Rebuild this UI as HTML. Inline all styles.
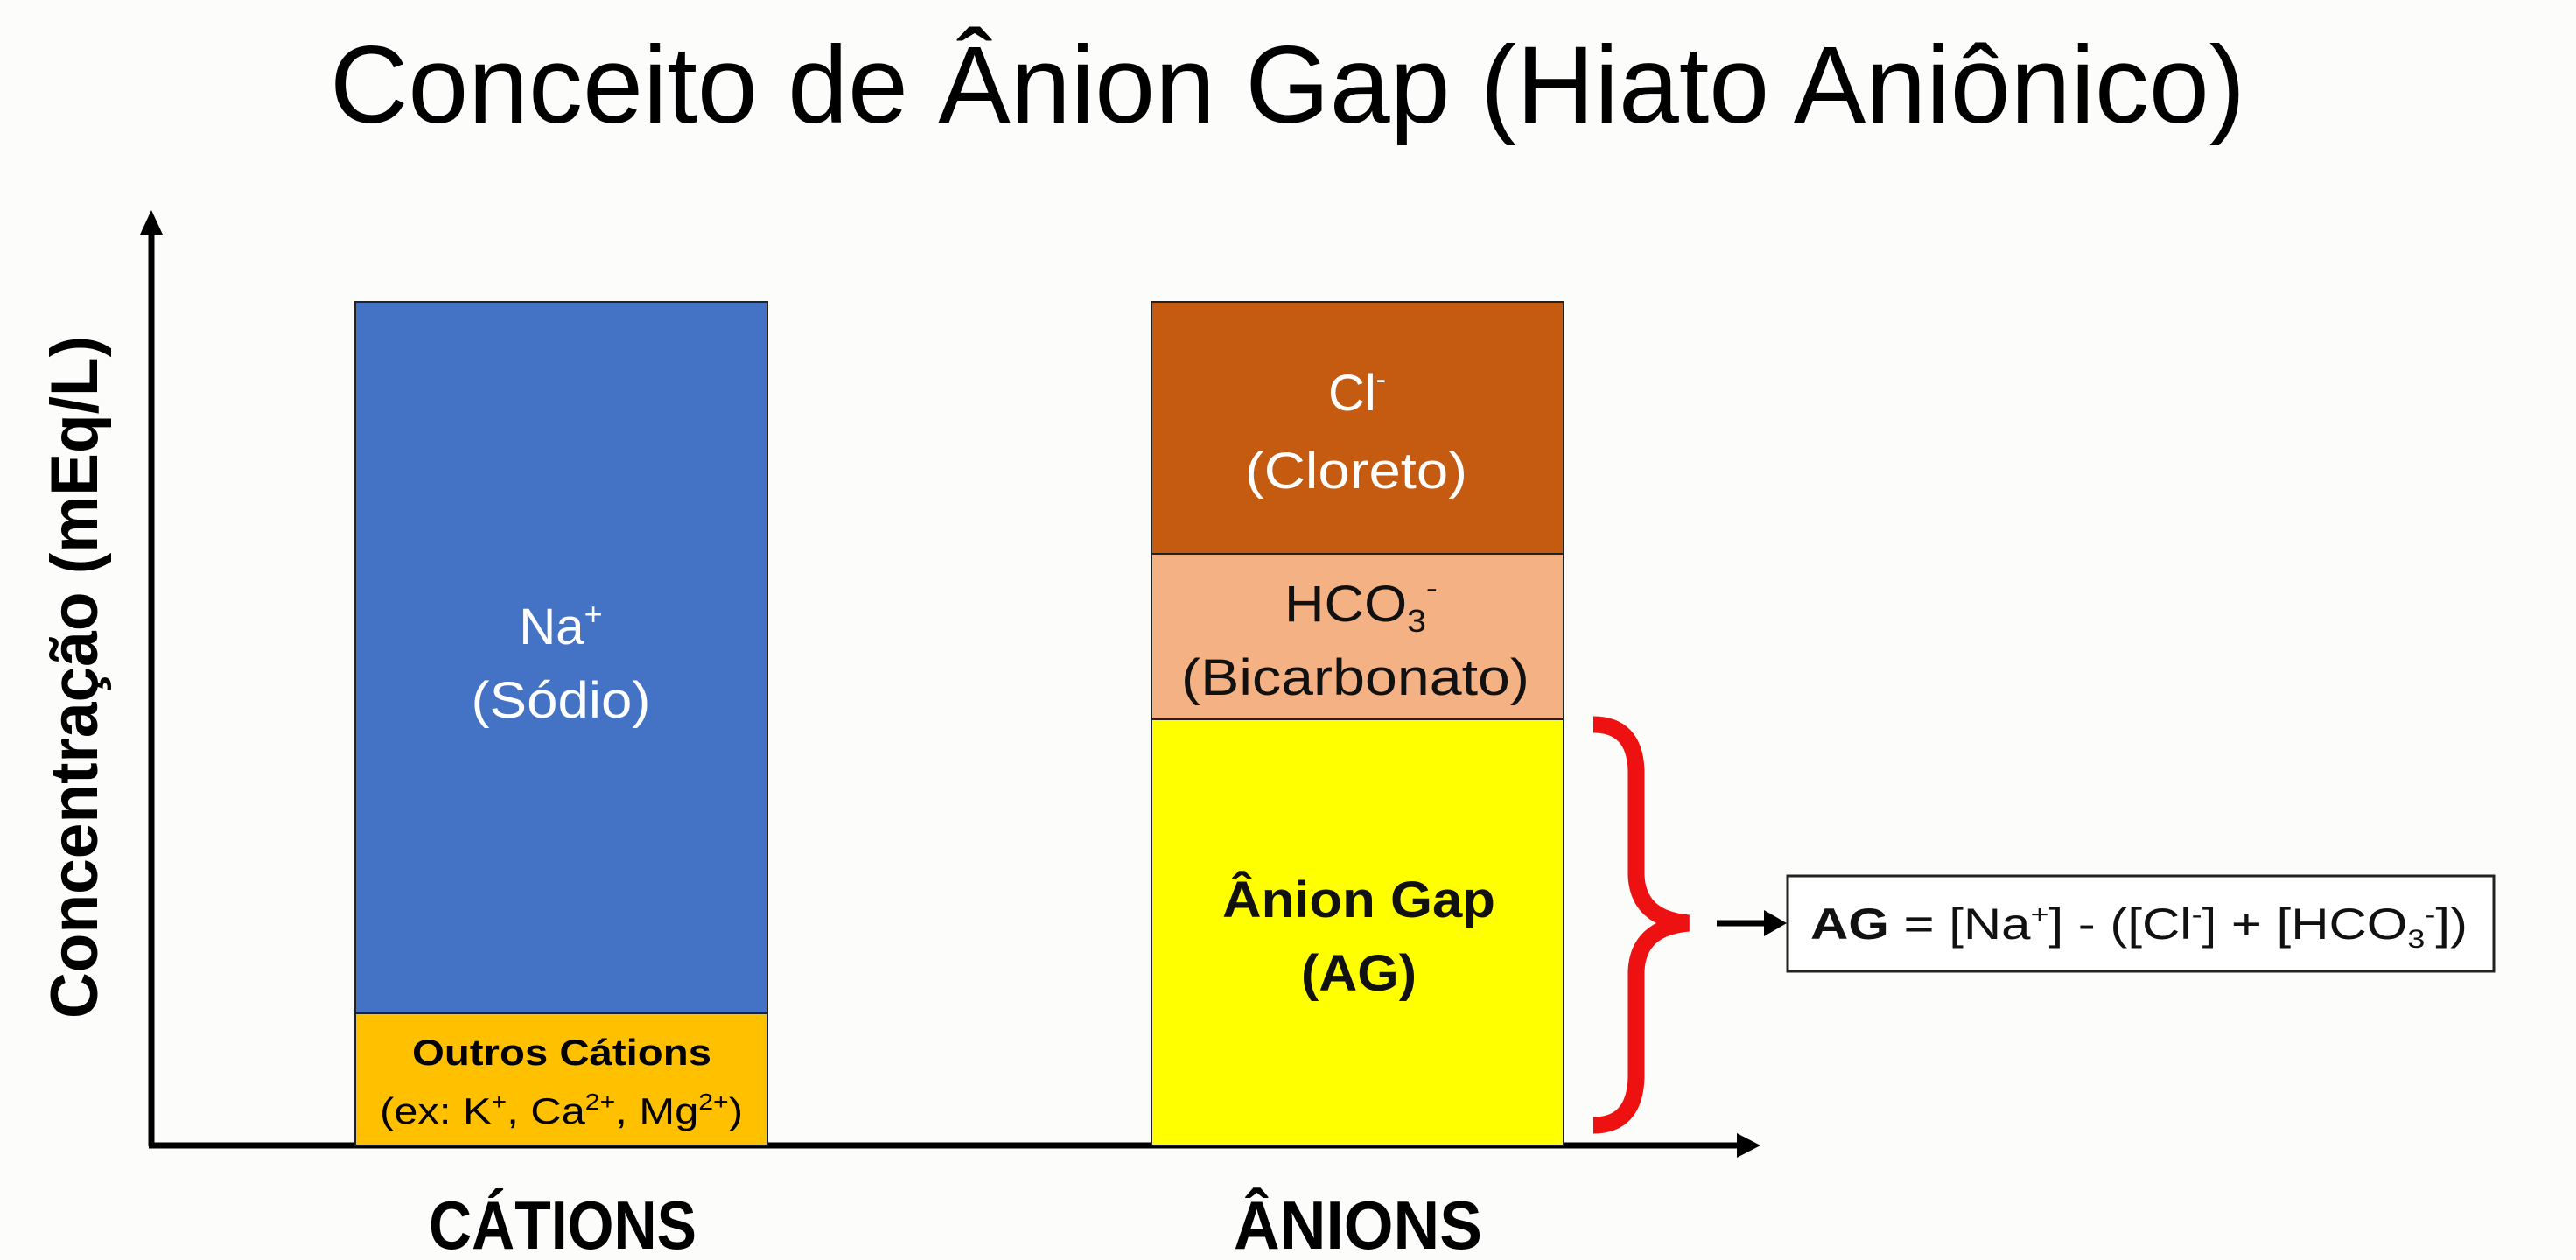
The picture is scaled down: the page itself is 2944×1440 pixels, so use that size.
<!DOCTYPE html>
<html><head><meta charset="utf-8"><style>html,body{margin:0;padding:0;background:#fcfcfb}svg{display:block}</style></head>
<body>
<svg width="2944" height="1440" viewBox="0 0 2944 1440" xmlns="http://www.w3.org/2000/svg" font-family="'Liberation Sans', sans-serif">
<rect width="2944" height="1440" fill="#fcfcfb"/>
<text x="377" y="140" font-size="125" textLength="2189" lengthAdjust="spacingAndGlyphs" fill="#000">Conceito de Ânion Gap (Hiato Aniônico)</text>

<!-- axes -->
<line x1="173" y1="262" x2="173" y2="1310" stroke="#000" stroke-width="7"/>
<polygon points="160,268 173,240 186,268" fill="#000"/>
<line x1="170" y1="1309" x2="1990" y2="1309" stroke="#000" stroke-width="7"/>
<polygon points="1985,1295 2012,1309 1985,1323" fill="#000"/>

<text transform="translate(111,1164) rotate(-90)" font-size="76" font-weight="bold" textLength="780" lengthAdjust="spacingAndGlyphs">Concentração (mEq/L)</text>

<!-- cations -->
<rect x="406" y="345" width="471" height="813" fill="#4472c4" stroke="#222" stroke-width="2"/>
<rect x="406" y="1158" width="471" height="151" fill="#ffc000" stroke="#222" stroke-width="2"/>
<text x="641" y="736" font-size="58" fill="#fff" text-anchor="middle">Na<tspan font-size="36" dy="-22">+</tspan></text>
<text x="641" y="820" font-size="58" fill="#fff" text-anchor="middle" textLength="205" lengthAdjust="spacingAndGlyphs">(Sódio)</text>
<text x="471" y="1217" font-size="42" font-weight="bold" textLength="342" lengthAdjust="spacingAndGlyphs">Outros Cátions</text>
<text x="434" y="1284" font-size="42" textLength="415" lengthAdjust="spacingAndGlyphs">(ex: K<tspan font-size="26" dy="-16">+</tspan><tspan dy="16">, Ca</tspan><tspan font-size="26" dy="-16">2+</tspan><tspan dy="16">, Mg</tspan><tspan font-size="26" dy="-16">2+</tspan><tspan dy="16">)</tspan></text>

<!-- anions -->
<rect x="1316" y="345" width="471" height="288" fill="#c55a11" stroke="#222" stroke-width="2"/>
<rect x="1316" y="633" width="471" height="189" fill="#f4b183" stroke="#222" stroke-width="2"/>
<rect x="1316" y="822" width="471" height="487" fill="#ffff00" stroke="#222" stroke-width="2"/>
<text x="1551" y="469" font-size="58" fill="#fff" text-anchor="middle">Cl<tspan font-size="34" dy="-24">-</tspan></text>
<text x="1423" y="558" font-size="58" fill="#fff" textLength="254" lengthAdjust="spacingAndGlyphs">(Cloreto)</text>
<text x="1468" y="710" font-size="58" fill="#111" textLength="175" lengthAdjust="spacingAndGlyphs">HCO<tspan font-size="36" dy="12">3</tspan><tspan font-size="36" dy="-38">-</tspan></text>
<text x="1350" y="794" font-size="58" fill="#111" textLength="398" lengthAdjust="spacingAndGlyphs">(Bicarbonato)</text>
<text x="1397" y="1048" font-size="58" font-weight="bold" fill="#111" textLength="312" lengthAdjust="spacingAndGlyphs">Ânion Gap</text>
<text x="1487" y="1132" font-size="58" font-weight="bold" fill="#111" textLength="132" lengthAdjust="spacingAndGlyphs">(AG)</text>

<!-- brace -->
<path d="M1821,828 Q1868,828 1870,880 L1870,1000 Q1872,1050 1930,1055 Q1872,1060 1870,1110 L1870,1232 Q1868,1286 1821,1286" fill="none" stroke="#ee1111" stroke-width="19"/>
<line x1="1962" y1="1055" x2="2022" y2="1055" stroke="#000" stroke-width="7"/>
<polygon points="2016,1040 2042,1055 2016,1070" fill="#000"/>

<rect x="2043" y="1001" width="807" height="109" fill="#fff" stroke="#222" stroke-width="3"/>
<text x="2069" y="1073" font-size="50" fill="#111" textLength="751" lengthAdjust="spacingAndGlyphs"><tspan font-weight="bold">AG</tspan> = [Na<tspan font-size="30" dy="-18">+</tspan><tspan dy="18">] - ([Cl</tspan><tspan font-size="30" dy="-18">-</tspan><tspan dy="18">] + [HCO</tspan><tspan font-size="30" dy="10">3</tspan><tspan font-size="30" dy="-28">-</tspan><tspan dy="18">])</tspan></text>

<text x="490" y="1427" font-size="78" font-weight="bold" textLength="306" lengthAdjust="spacingAndGlyphs">CÁTIONS</text>
<text x="1410" y="1427" font-size="78" font-weight="bold" textLength="284" lengthAdjust="spacingAndGlyphs">ÂNIONS</text>
</svg>
</body></html>
